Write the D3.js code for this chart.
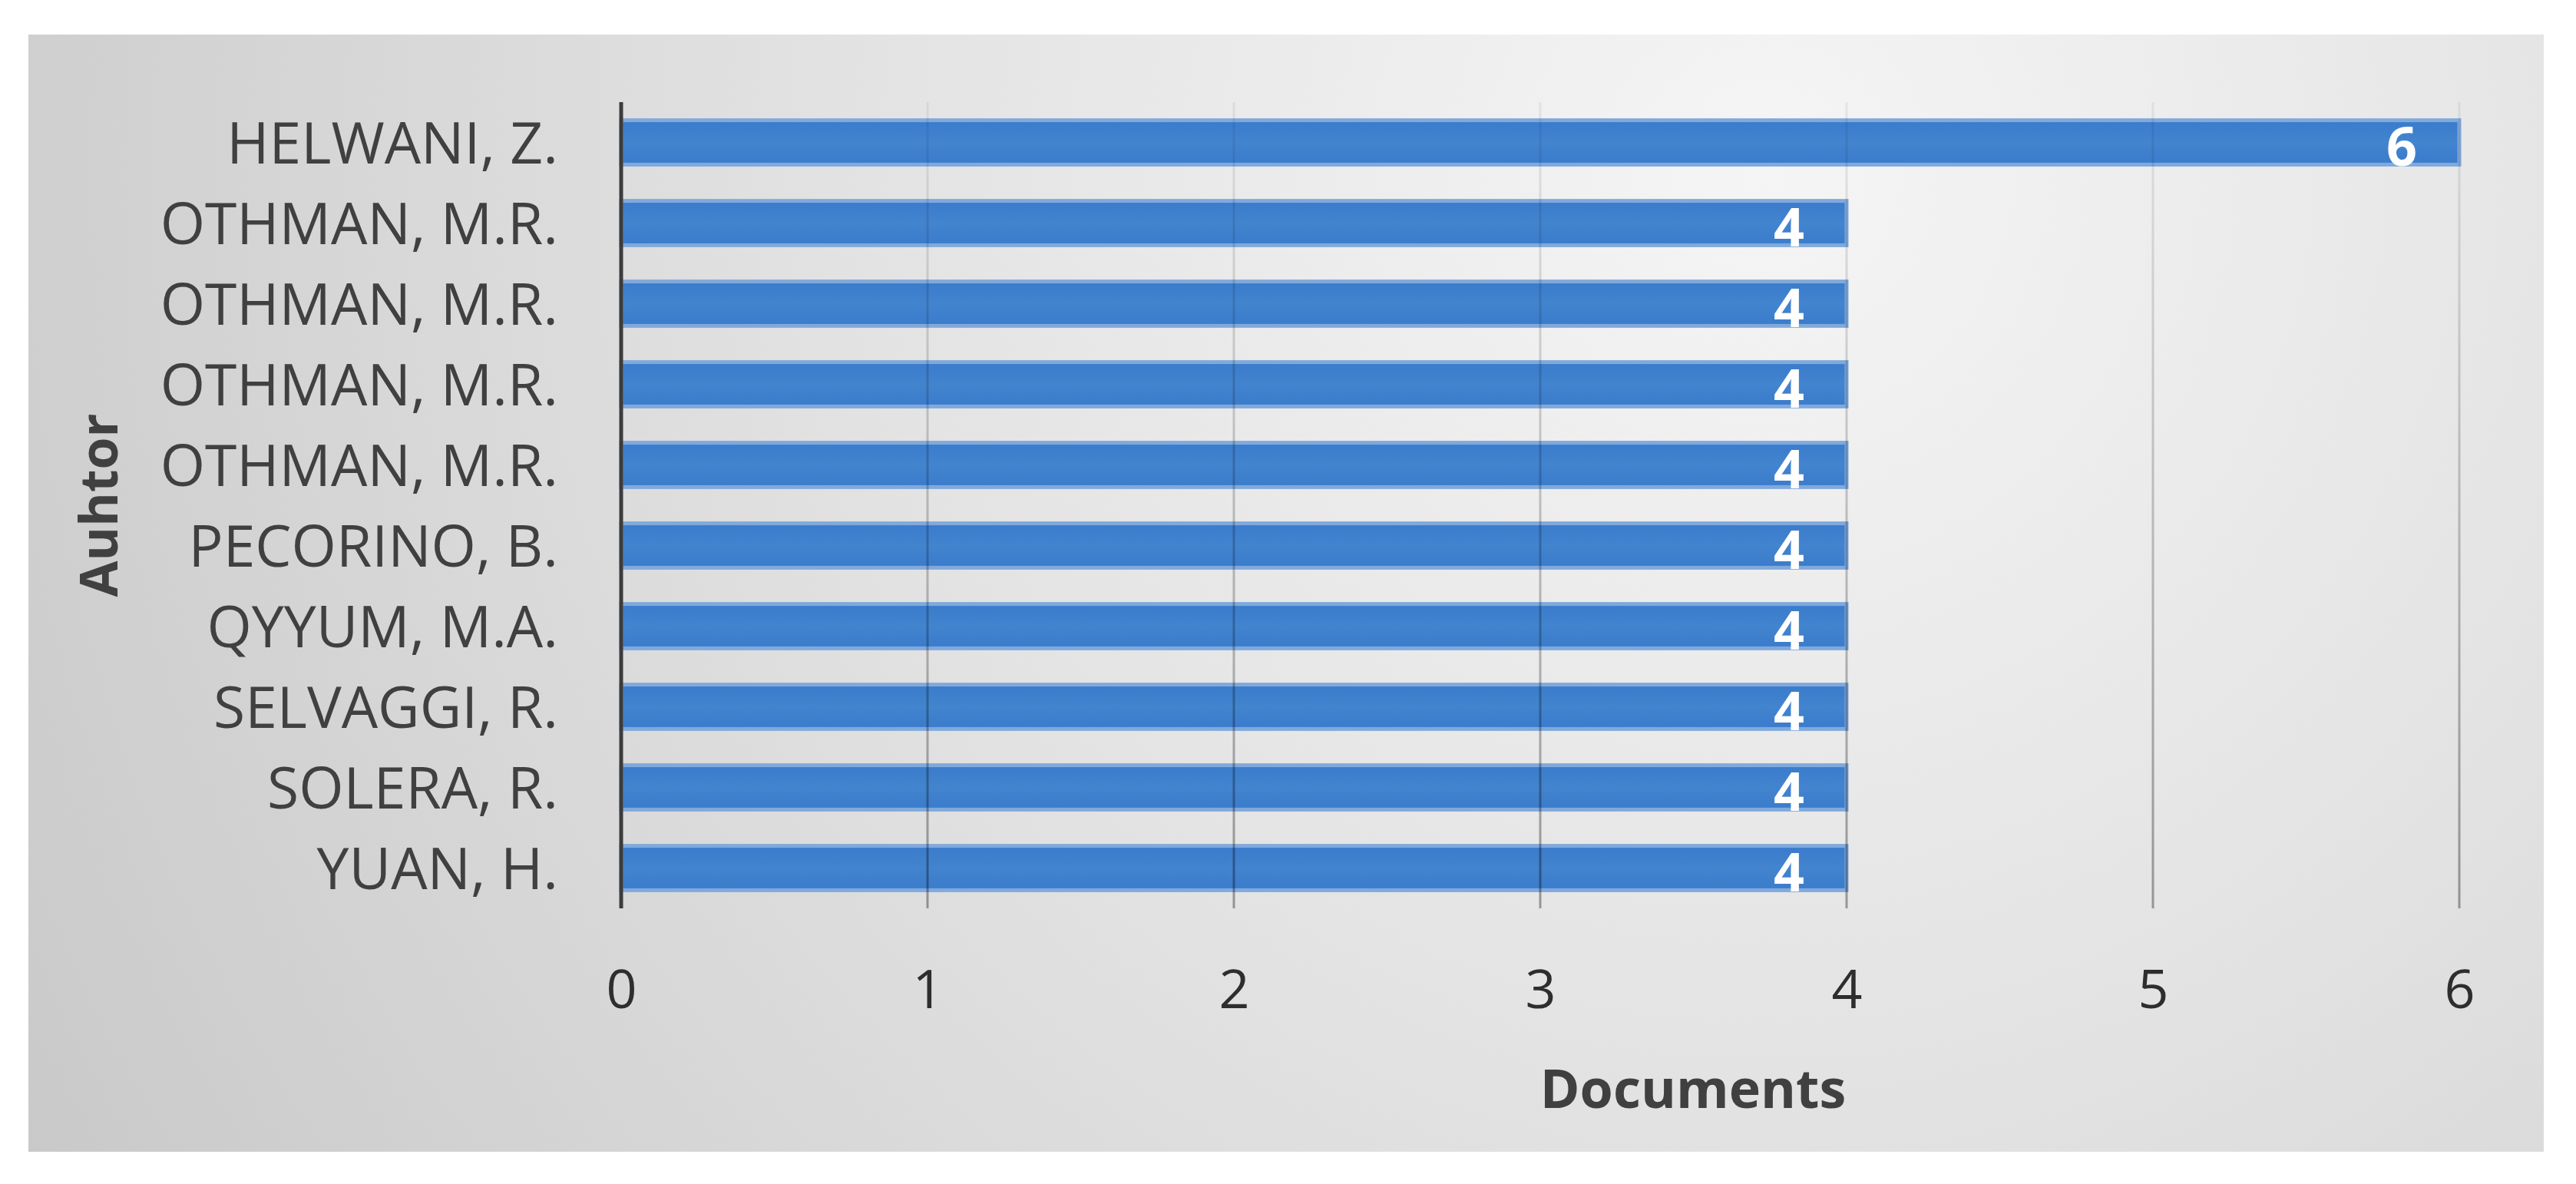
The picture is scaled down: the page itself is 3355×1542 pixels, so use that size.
<!DOCTYPE html>
<html>
<head>
<meta charset="utf-8">
<script src="https://cdn.jsdelivr.net/npm/d3@7/dist/d3.min.js"></script>
<style>
  html, body { margin: 0; padding: 0; background: #ffffff; }
  svg { display: block; }
  text { font-family: "Open Sans", sans-serif; }
</style>
</head>
<body>
<svg id="chart" width="3355" height="1542"></svg>
<script>
// ---- data ----
const authors = ["HELWANI, Z.", "OTHMAN, M.R.", "OTHMAN, M.R.", "OTHMAN, M.R.", "OTHMAN, M.R.",
                 "PECORINO, B.", "QYYUM, M.A.", "SELVAGGI, R.", "SOLERA, R.", "YUAN, H."];
const documents = [6, 4, 4, 4, 4, 4, 4, 4, 4, 4];
const xTicks = [0, 1, 2, 3, 4, 5, 6];
const xTitle = "Documents";
const yTitle = "Auhtor";

// ---- layout ----
const panel = { x: 37, y: 45, w: 3276, h: 1455 };
const plot = { left: 809, right: 3203, top: 133, bottom: 1183 };

const svg = d3.select("#chart");
const defs = svg.append("defs");

const bg = defs.append("radialGradient")
  .attr("id", "bgGrad")
  .attr("gradientUnits", "userSpaceOnUse")
  .attr("cx", 2300).attr("cy", 230).attr("r", 2600)
  .attr("fx", 2300).attr("fy", 230);
bg.append("stop").attr("offset", "0%").attr("stop-color", "#f5f5f5");
bg.append("stop").attr("offset", "45%").attr("stop-color", "#e3e3e3");
bg.append("stop").attr("offset", "100%").attr("stop-color", "#c9c9c9");

const gridGrad = defs.append("linearGradient")
  .attr("id", "gridGrad")
  .attr("gradientUnits", "userSpaceOnUse")
  .attr("x1", 0).attr("y1", plot.top).attr("x2", 0).attr("y2", plot.bottom);
gridGrad.append("stop").attr("offset", "0%").attr("stop-color", "#000").attr("stop-opacity", 0.06);
gridGrad.append("stop").attr("offset", "100%").attr("stop-color", "#000").attr("stop-opacity", 0.35);

const barGrad = defs.append("linearGradient")
  .attr("id", "barGrad")
  .attr("x1", 0).attr("y1", 0).attr("x2", 0).attr("y2", 1);
barGrad.append("stop").attr("offset", "0%").attr("stop-color", "#3a7bcb");
barGrad.append("stop").attr("offset", "50%").attr("stop-color", "#4384cf");
barGrad.append("stop").attr("offset", "100%").attr("stop-color", "#3a7bcb");

// background panel
svg.append("rect")
  .attr("x", panel.x).attr("y", panel.y)
  .attr("width", panel.w).attr("height", panel.h)
  .attr("fill", "url(#bgGrad)");

// scales
const x = d3.scaleLinear().domain([0, 6]).range([plot.left, plot.right]);
const y = d3.scaleBand().domain(d3.range(authors.length))
  .range([plot.top, plot.bottom]).paddingInner(0.45).paddingOuter(0.225);

// bars
svg.append("g").selectAll("rect")
  .data(documents)
  .join("rect")
  .attr("x", x(0))
  .attr("y", (d, i) => y(i))
  .attr("width", d => x(d) - x(0))
  .attr("height", y.bandwidth())
  .attr("fill", "url(#barGrad)")
  .attr("stroke", "#80a9dc")
  .attr("stroke-width", 5);

// gridlines (drawn over bars, semi-transparent)
svg.append("g").selectAll("line")
  .data(xTicks.filter(t => t > 0))
  .join("line")
  .attr("x1", d => x(d)).attr("x2", d => x(d))
  .attr("y1", plot.top).attr("y2", plot.bottom)
  .attr("stroke", "url(#gridGrad)")
  .attr("stroke-width", 3);

// vertical axis line
svg.append("line")
  .attr("x1", x(0)).attr("x2", x(0))
  .attr("y1", plot.top).attr("y2", plot.bottom)
  .attr("stroke", "#3c3c3c").attr("stroke-width", 5);

// category axis
const yAxis = d3.axisLeft(d3.scaleBand().domain(d3.range(authors.length)).range([plot.top, plot.bottom]))
  .tickSize(0).tickPadding(82).tickFormat(i => authors[i]);
const gy = svg.append("g").attr("transform", `translate(${x(0)},0)`).call(yAxis);
gy.select(".domain").remove();
gy.selectAll("text")
  .attr("font-family", "Open Sans, sans-serif")
  .attr("font-size", 75)
  .attr("fill", "#404040")
  .attr("dy", "0.36em");

// x axis tick labels
const xAxis = d3.axisBottom(x).tickValues(xTicks).tickSize(0).tickPadding(80).tickFormat(d3.format("d"));
const gx = svg.append("g").attr("transform", `translate(0,${plot.bottom})`).call(xAxis);
gx.select(".domain").remove();
gx.selectAll("text")
  .attr("font-family", "Open Sans, sans-serif")
  .attr("font-size", 70)
  .attr("fill", "#2e2e2e")
  .attr("dy", "0.72em");

// value labels
svg.append("g").selectAll("text")
  .data(documents)
  .join("text")
  .attr("x", d => x(d) - 55)
  .attr("y", (d, i) => y(i) + y.bandwidth() / 2 + 5)
  .attr("dy", "0.36em")
  .attr("text-anchor", "end")
  .attr("font-size", 70)
  .attr("font-weight", 700)
  .attr("fill", "#ffffff")
  .text(d => d);

// axis titles
svg.append("text")
  .attr("x", 2205).attr("y", 1443)
  .attr("text-anchor", "middle")
  .attr("font-size", 70)
  .attr("font-weight", 700)
  .attr("fill", "#404040")
  .text(xTitle);

svg.append("text")
  .attr("transform", `translate(153,${(plot.top + plot.bottom) / 2}) rotate(-90)`)
  .attr("text-anchor", "middle")
  .attr("font-size", 68)
  .attr("font-weight", 700)
  .attr("fill", "#404040")
  .text(yTitle);
</script>
</body>
</html>
